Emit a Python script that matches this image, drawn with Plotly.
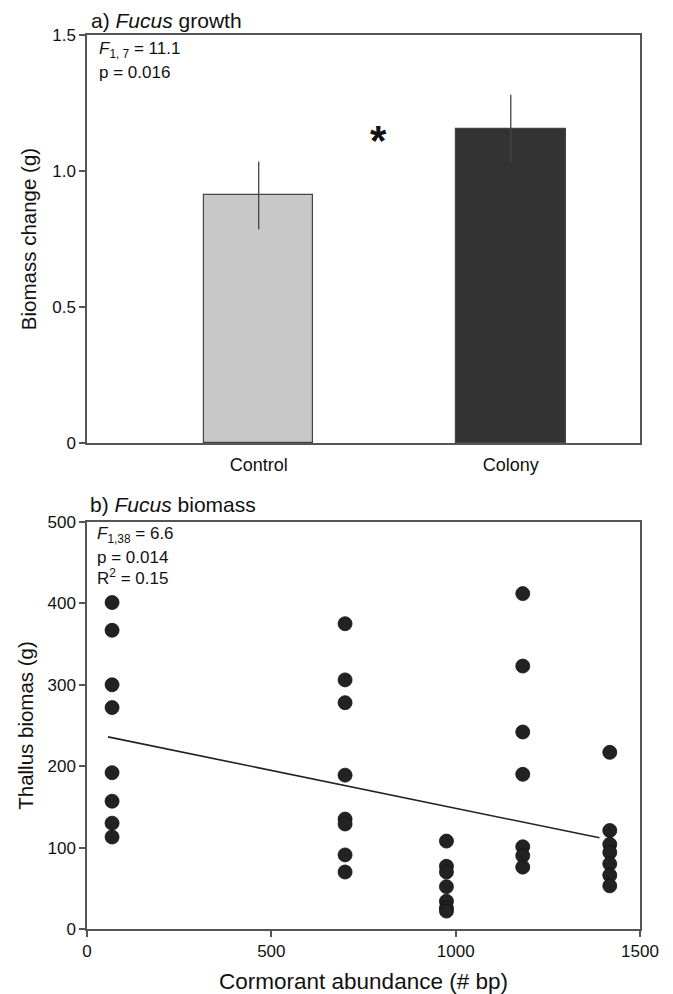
import plotly.graph_objects as go
from plotly.subplots import make_subplots

# ---- Data: panel a (bar chart) ----
bar_categories = ["Control", "Colony"]
bar_positions = [0, 1]
bar_means = [0.91, 1.155]
bar_se = [0.125, 0.125]
bar_colors = ["#c8c8c8", "#333333"]

# ---- Data: panel b (scatter) ----
abund_x = ([68] * 8 + [700] * 8 + [975] * 7 + [1182] * 7 + [1418] * 7)
biomass_y = ([401, 367, 300, 272, 192, 157, 130, 113]
             + [375, 306, 278, 189, 135, 129, 91, 70]
             + [108, 77, 70, 52, 34, 26, 22]
             + [412, 323, 242, 190, 101, 90, 76]
             + [217, 121, 104, 94, 80, 66, 53])
fit_x = [57, 1390]
fit_y = [236, 112]

x_ticks_b = [0, 500, 1000, 1500]
y_ticks_b = [0, 100, 200, 300, 400, 500]
y_ticks_a = [0, 0.5, 1.0, 1.5]
y_ticklabels_a = ["0", "0.5", "1.0", "1.5"]

FONT = "Liberation Sans, Arial, sans-serif"
AX = "#555555"
TXT = "#111111"

fig = make_subplots(rows=2, cols=1, vertical_spacing=0.0)

fig.add_trace(go.Bar(
    x=bar_positions, y=bar_means, width=0.434,
    marker=dict(color=bar_colors, line=dict(color="#444444", width=1.2)),
    error_y=dict(type="data", array=bar_se, color="#444444", thickness=1.3, width=0),
    showlegend=False), row=1, col=1)

fig.add_trace(go.Scatter(
    x=fit_x, y=fit_y, mode="lines",
    line=dict(color="#222222", width=1.6), showlegend=False), row=2, col=1)

fig.add_trace(go.Scatter(
    x=abund_x, y=biomass_y, mode="markers",
    marker=dict(size=14, color="#222222", line=dict(color="#111111", width=0.8)),
    showlegend=False), row=2, col=1)

axis_common = dict(showline=True, linecolor=AX, linewidth=1.5, mirror=True,
                   showgrid=False, zeroline=False)
num_font = dict(family=FONT, size=17, color=TXT)

fig.update_xaxes(row=1, col=1, range=[-0.681, 1.5125], tickvals=bar_positions,
                 ticktext=bar_categories, ticks="", ticklabelstandoff=5,
                 tickfont=dict(family=FONT, size=18, color=TXT),
                 domain=[0, 1], **axis_common)
fig.update_yaxes(row=1, col=1, range=[0, 1.5], tickvals=y_ticks_a,
                 ticktext=y_ticklabels_a, ticks="outside", ticklen=6,
                 tickcolor=AX, tickwidth=1.5, domain=[0.5436, 1.0],
                 tickfont=num_font,
                 title=dict(text="Biomass change (g)", standoff=10,
                            font=dict(family=FONT, size=20.5, color=TXT)),
                 **axis_common)

fig.update_xaxes(row=2, col=1, range=[0, 1500], tickvals=x_ticks_b,
                 ticks="outside", ticklen=6, tickcolor=AX, tickwidth=1.5,
                 tickfont=num_font,
                 title=dict(text="Cormorant abundance (# bp)", standoff=13,
                            font=dict(family=FONT, size=22.5, color=TXT)),
                 domain=[0, 1], **axis_common)
fig.update_yaxes(row=2, col=1, range=[0, 500], tickvals=y_ticks_b,
                 ticks="outside", ticklen=6, tickcolor=AX, tickwidth=1.5,
                 domain=[0, 0.4553], tickfont=num_font,
                 title=dict(text="Thallus biomas (g)", standoff=8,
                            font=dict(family=FONT, size=20.5, color=TXT)),
                 **axis_common)

ann_font = dict(family=FONT, size=17, color=TXT)
title_font = dict(family=FONT, size=21, color=TXT)
annotations = [
    dict(text="a) <i>Fucus</i> growth", x=0.0036, y=1.0157, xanchor="left", yanchor="middle",
         font=title_font),
    dict(text="<i>F</i><sub>1, 7</sub> = 11.1", x=0.0181, y=0.983, xanchor="left", yanchor="middle",
         font=ann_font),
    dict(text="p = 0.016", x=0.0181, y=0.9586, xanchor="left", yanchor="middle", font=ann_font),
    dict(text="b) <i>Fucus</i> biomass", x=0.0018, y=0.4743, xanchor="left", yanchor="middle",
         font=title_font),
    dict(text="<i>F</i><sub>1,38</sub> = 6.6", x=0.0145, y=0.4407, xanchor="left", yanchor="middle",
         font=ann_font),
    dict(text="p = 0.014", x=0.0145, y=0.415, xanchor="left", yanchor="middle", font=ann_font),
    dict(text="R<sup>2</sup> = 0.15", x=0.0145, y=0.3937, xanchor="left", yanchor="middle", font=ann_font),
]
for a in annotations:
    fig.add_annotation(xref="paper", yref="paper", showarrow=False, **a)

fig.add_annotation(x=0.477, y=1.147, xref="x", yref="y", text="<b>*</b>", showarrow=False,
                   font=dict(family=FONT, size=42, color=TXT), yshift=-9)

# The page body adds an 8 px offset, so the figure is sized to fit the window.
fig.update_layout(width=665, height=986,
                  margin=dict(l=79, r=33, t=27, b=65, autoexpand=False),
                  plot_bgcolor="white", paper_bgcolor="white",
                  font=dict(family=FONT, color=TXT), bargap=0)

fig.write_html("out.html")
